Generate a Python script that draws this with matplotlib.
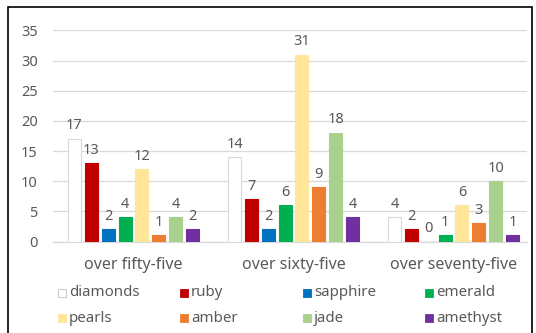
import matplotlib
matplotlib.use("Agg")
import matplotlib.pyplot as plt
from matplotlib.patches import Rectangle
import numpy as np

plt.rcParams['font.family'] = ['Noto Sans', 'DejaVu Sans']

categories = ["over fifty-five", "over sixty-five", "over seventy-five"]
series_names = ["diamonds", "ruby", "sapphire", "emerald", "pearls", "amber", "jade", "amethyst"]
series_values = [
    [17, 14, 4],   # diamonds
    [13, 7, 2],    # ruby
    [2, 2, 0],     # sapphire
    [4, 6, 1],     # emerald
    [12, 31, 6],   # pearls
    [1, 9, 3],     # amber
    [4, 18, 10],   # jade
    [2, 4, 1],     # amethyst
]
series_colors = ["#FFFFFF", "#C00000", "#0070C0", "#00B050",
                 "#FFE699", "#ED7D31", "#A9D18E", "#7030A0"]
y_ticks = [0, 5, 10, 15, 20, 25, 30, 35]

W, H = 536, 333
fig = plt.figure(figsize=(W / 100, H / 100), dpi=100)
ax = fig.add_axes([53 / W, 91.5 / H, 474 / W, 211 / H])

text_color = "#595959"
grid_color = "#D9D9D9"

x = np.arange(len(categories))
step = 16.86 / 160
bar_w = 13 / 160
n = len(series_names)
for i, (name, vals, col) in enumerate(zip(series_names, series_values, series_colors)):
    xs = x + (i - (n - 1) / 2) * step
    edge = grid_color if col == "#FFFFFF" else col
    bars = ax.bar(xs, vals, width=bar_w, color=col, edgecolor=edge, linewidth=0.8, zorder=3)
    for b, v in zip(bars, vals):
        ax.annotate(str(v), (b.get_x() + b.get_width() / 2, v),
                    xytext=(0, 4), textcoords="offset points",
                    ha="center", va="bottom", fontsize=10.5, color=text_color)

ax.set_xlim(-80.5 / 160, 393.5 / 160)
ax.set_ylim(0, 35)
ax.set_yticks(y_ticks)
ax.set_xticks(x)
ax.set_xticklabels(categories)
ax.tick_params(axis="y", length=0, pad=11, labelsize=10.5, labelcolor=text_color)
ax.tick_params(axis="x", length=0, pad=11, labelsize=11.5, labelcolor=text_color)
ax.yaxis.grid(True, color=grid_color, linewidth=0.9, zorder=0)
ax.set_axisbelow(True)
for s in ["top", "right", "left"]:
    ax.spines[s].set_visible(False)
ax.spines["bottom"].set_color(grid_color)
ax.spines["bottom"].set_linewidth(0.9)

# legend: two rows of four entries
col_x = [58, 180, 303, 425]
row_y = [293, 318]
sq = 8
for i, (name, col) in enumerate(zip(series_names, series_colors)):
    r, c = divmod(i, 4)
    x0 = col_x[c]
    yc = row_y[r]
    edge = "#BFBFBF" if col == "#FFFFFF" else col
    fig.add_artist(Rectangle((x0 / W, (H - yc - sq / 2) / H), sq / W, sq / H,
                             facecolor=col, edgecolor=edge, linewidth=0.6,
                             transform=fig.transFigure))
    fig.text((x0 + sq + 3) / W, (H - yc) / H, name, ha="left", va="center",
             fontsize=10.8, color=text_color)

# chart frame
fig.add_artist(Rectangle((8 / W, -10 / H), 524 / W, (H - 7 + 10) / H,
                         facecolor="none", edgecolor="black", linewidth=1.2,
                         transform=fig.transFigure))

fig.savefig("out.png", dpi=100)
